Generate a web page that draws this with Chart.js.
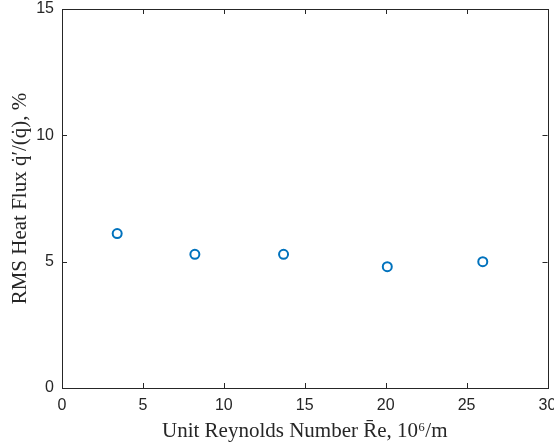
<!DOCTYPE html>
<html>
<head>
<meta charset="utf-8">
<script src="https://cdn.jsdelivr.net/npm/chart.js@4"></script>
<style>
  html, body { margin: 0; padding: 0; background: #fff; }
  #wrap { width: 554px; height: 445px; }
</style>
</head>
<body>
<div id="wrap"><canvas id="fluxChart" width="554" height="445"></canvas></div>
<script>
// data
var reynolds = [3.41, 8.21, 13.69, 20.1, 26.0];
var rmsFlux = [6.11, 5.29, 5.29, 4.80, 5.00];
var xTicks = [0, 5, 10, 15, 20, 25, 30];
var yTicks = [0, 5, 10, 15];

var axisColor = '#262626';

var points = reynolds.map(function(r, i) {
    return { x: r, y: rmsFlux[i] };
});

// MATLAB style box with inward ticks on all four sides
var boxPlugin = {
    id: 'boxPlugin',
    afterDraw: function(chart) {
        var ctx = chart.ctx;
        var a = chart.chartArea;
        var xs = chart.scales.x, ys = chart.scales.y;
        ctx.save();
        ctx.strokeStyle = axisColor;
        ctx.lineWidth = 1;
        ctx.strokeRect(Math.round(a.left) + 0.5, Math.round(a.top) + 0.5,
            Math.round(a.right - a.left), Math.round(a.bottom - a.top));
        ctx.beginPath();
        xTicks.forEach(function(v) {
            var px = Math.round(xs.getPixelForValue(v)) + 0.5;
            ctx.moveTo(px, a.bottom); ctx.lineTo(px, a.bottom - 5);
            ctx.moveTo(px, a.top); ctx.lineTo(px, a.top + 5);
        });
        yTicks.forEach(function(v) {
            var py = Math.round(ys.getPixelForValue(v)) + 0.5;
            ctx.moveTo(a.left, py); ctx.lineTo(a.left + 5, py);
            ctx.moveTo(a.right, py); ctx.lineTo(a.right - 5, py);
        });
        ctx.stroke();
        ctx.restore();
    }
};

var ctx = document.getElementById('fluxChart').getContext('2d');

var fluxChart = new Chart(ctx, {
    type: 'scatter',
    data: {
        datasets: [{
            data: points,
            showLine: false,
            pointStyle: 'circle',
            pointRadius: 4.5,
            pointBorderWidth: 2,
            pointBorderColor: '#0072BD',
            pointBackgroundColor: 'rgba(0,0,0,0)'
        }]
    },
    options: {
        responsive: false,
        animation: false,
        layout: { padding: { top: 9, right: 6, left: 0, bottom: 0 } },
        plugins: {
            legend: { display: false },
            tooltip: { enabled: false }
        },
        scales: {
            x: {
                type: 'linear',
                min: 0,
                max: 30,
                afterFit: function(scale) {
                    scale.height = 57;
                    scale.paddingLeft = 0;
                    scale.paddingRight = 0;
                },
                afterBuildTicks: function(scale) {
                    scale.ticks = xTicks.map(function(v) { return { value: v }; });
                },
                grid: { display: false, drawTicks: false },
                border: { display: false },
                ticks: {
                    padding: 8,
                    maxRotation: 0,
                    color: axisColor,
                    font: { family: 'Liberation Sans', size: 16 }
                },
                title: {
                    display: true,
                    text: 'Unit Reynolds Number R\u0304e, 10\u2076/m',
                    color: axisColor,
                    padding: { top: 0, bottom: 1 },
                    font: { family: 'Liberation Serif', size: 21 }
                }
            },
            y: {
                type: 'linear',
                min: 0,
                max: 15,
                afterFit: function(scale) {
                    scale.width = 62;
                    scale.paddingTop = 0;
                    scale.paddingBottom = 0;
                },
                afterBuildTicks: function(scale) {
                    scale.ticks = yTicks.map(function(v) { return { value: v }; });
                },
                grid: { display: false, drawTicks: false },
                border: { display: false },
                ticks: {
                    padding: 8,
                    color: axisColor,
                    font: { family: 'Liberation Sans', size: 16 }
                },
                title: {
                    display: true,
                    text: 'RMS Heat Flux q\u0307\u2032/(q\u0307), %',
                    color: axisColor,
                    padding: { top: 8, bottom: 0 },
                    font: { family: 'Liberation Serif', size: 21 }
                }
            }
        }
    },
    plugins: [boxPlugin]
});
</script>
</body>
</html>
